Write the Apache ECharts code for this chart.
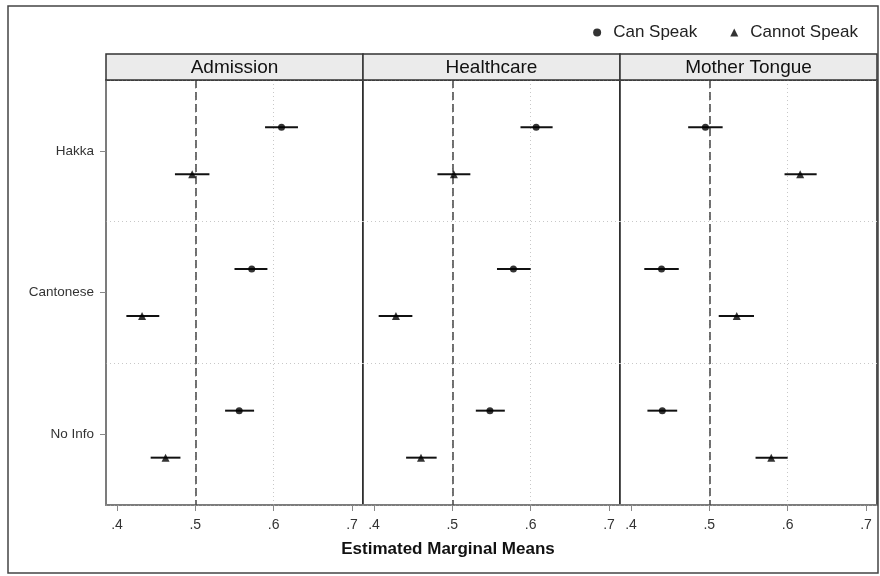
<!DOCTYPE html>
<html>
<head>
<meta charset="utf-8">
<script src="https://cdn.jsdelivr.net/npm/echarts@6/dist/echarts.min.js"></script>
<style>html,body{margin:0;padding:0;background:#fff}#c{width:880px;height:576px}</style>
</head>
<body>
<div id="c"></div>
<script>
// ---- data ----
const categories = ['Hakka', 'Cantonese', 'No Info'];
const panels = ['Admission', 'Healthcare', 'Mother Tongue'];
const tickValues = [0.4, 0.5, 0.6, 0.7];
const refValue = 0.5;
const seriesNames = ['Can Speak', 'Cannot Speak'];
const xTitle = 'Estimated Marginal Means';
// per panel, values in category order (Hakka, Cantonese, No Info)
const canMean  = [[0.610, 0.572, 0.556], [0.607, 0.578, 0.548], [0.495, 0.439, 0.440]];
const canLow   = [[0.589, 0.550, 0.538], [0.587, 0.557, 0.530], [0.473, 0.417, 0.421]];
const canHigh  = [[0.631, 0.592, 0.575], [0.628, 0.600, 0.567], [0.517, 0.461, 0.459]];
const cannotMean = [[0.496, 0.432, 0.462], [0.502, 0.428, 0.460], [0.616, 0.535, 0.579]];
const cannotLow  = [[0.474, 0.412, 0.443], [0.481, 0.406, 0.441], [0.596, 0.512, 0.559]];
const cannotHigh = [[0.518, 0.454, 0.481], [0.523, 0.449, 0.480], [0.637, 0.557, 0.600]];
const xMin = 0.386, xMax = 0.714;

// ---- layout ----
const FONT = '"Liberation Sans", Arial, sans-serif';
const LEFT = 106, PW = 257, TOP = 80, PH = 425, HEAD_H = 26;
const DODGE = 23.5;

const chart = echarts.init(document.getElementById('c'), null, {renderer: 'canvas'});

const grids = [], xAxes = [], yAxes = [], series = [], graphics = [];

graphics.push({
  type: 'rect', shape: {x: 8, y: 6, width: 870, height: 567},
  style: {fill: 'none', stroke: '#444', lineWidth: 1.5}, z: 100, silent: true
});
graphics.push({
  type: 'text', x: 448, y: 549, z: 51, silent: true,
  style: {text: xTitle, fontFamily: FONT, fontSize: 17, fontWeight: 'bold', fill: '#111',
    textAlign: 'center', textVerticalAlign: 'middle'}
});

panels.forEach((title, p) => {
  const left = LEFT + p * PW;
  grids.push({left: left, top: TOP, width: PW, height: PH, show: true,
    borderColor: '#222', borderWidth: 1.5, backgroundColor: '#fff'});
  xAxes.push({
    type: 'value', gridIndex: p, min: xMin, max: xMax,
    axisLine: {show: true, onZero: false, lineStyle: {color: '#888', width: 1.5}},
    axisTick: {show: true, length: 6, customValues: tickValues, lineStyle: {color: '#888'}},
    axisLabel: {show: true, customValues: tickValues, margin: 13, color: '#333',
      fontFamily: FONT, fontSize: 14,
      formatter: v => String(Math.round(v * 10) / 10).replace(/^0/, '')},
    splitLine: {show: true, showMinLine: false, showMaxLine: false,
      lineStyle: {color: '#c8c8c8', type: [1, 3], width: 1}}
  });
  yAxes.push({
    type: 'category', gridIndex: p, data: categories, inverse: true, boundaryGap: true,
    axisLine: {show: p === 0, lineStyle: {color: '#888', width: 1.5}},
    axisTick: {show: p === 0, alignWithLabel: true, length: 6, lineStyle: {color: '#888'}},
    axisLabel: {show: p === 0, margin: 12, color: '#333', fontFamily: FONT, fontSize: 13.5},
    splitLine: {show: true, lineStyle: {color: '#c8c8c8', type: [1, 3], width: 1}}
  });

  // header strip
  graphics.push({
    type: 'rect', shape: {x: left, y: TOP - HEAD_H, width: PW, height: HEAD_H},
    style: {fill: '#ebebeb', stroke: '#333', lineWidth: 1.5}, z: 50, silent: true
  });
  graphics.push({
    type: 'text', x: left + PW / 2, y: TOP - HEAD_H / 2 + 0.5, z: 51, silent: true,
    style: {text: title, fontFamily: FONT, fontSize: 19, fill: '#111',
      textAlign: 'center', textVerticalAlign: 'middle'}
  });

  const groups = [
    {name: seriesNames[0], mean: canMean[p], lo: canLow[p], hi: canHigh[p], symbol: 'circle', size: 7, off: -DODGE},
    {name: seriesNames[1], mean: cannotMean[p], lo: cannotLow[p], hi: cannotHigh[p], symbol: 'triangle', size: 8, off: DODGE}
  ];
  groups.forEach((g, gi) => {
    const off = g.off;
    series.push({
      type: 'custom', name: g.name + ' CI', xAxisIndex: p, yAxisIndex: p,
      data: categories.map((c, i) => [g.lo[i], g.hi[i], i]),
      encode: {x: [0, 1], y: 2},
      renderItem: (params, api) => {
        const a = api.coord([api.value(0), api.value(2)]);
        const b = api.coord([api.value(1), api.value(2)]);
        return {type: 'line', shape: {x1: a[0], y1: a[1] + off, x2: b[0], y2: b[1] + off},
          style: {stroke: '#111', lineWidth: 2}};
      },
      z: 3, silent: true, legendHoverLink: false
    });
    const s = {
      type: 'scatter', name: g.name, xAxisIndex: p, yAxisIndex: p,
      data: categories.map((c, i) => [g.mean[i], i]),
      symbol: g.symbol, symbolSize: g.size, symbolOffset: [0, off],
      itemStyle: {color: '#000'}, z: 4, silent: true
    };
    if (gi === 0) {
      s.markLine = {
        silent: true, symbol: 'none', label: {show: false},
        lineStyle: {color: '#444', type: [8, 4], width: 1.5},
        data: [{xAxis: refValue}], z: 2
      };
    }
    series.push(s);
  });
});

chart.setOption({
  animation: false,
  backgroundColor: '#fff',
  legend: {
    data: seriesNames.map(n => ({name: n, icon: n === seriesNames[0] ? 'circle' : 'triangle'})),
    right: 17, top: 19, itemWidth: 8, itemHeight: 8, itemGap: 33, itemTextGap: 20,
    textStyle: {fontFamily: FONT, fontSize: 17, color: '#222', padding: [0, 0, 0, 7]},
    itemStyle: {color: '#000'}
  },
  grid: grids, xAxis: xAxes, yAxis: yAxes, series: series, graphic: graphics
});
</script>
</body>
</html>
